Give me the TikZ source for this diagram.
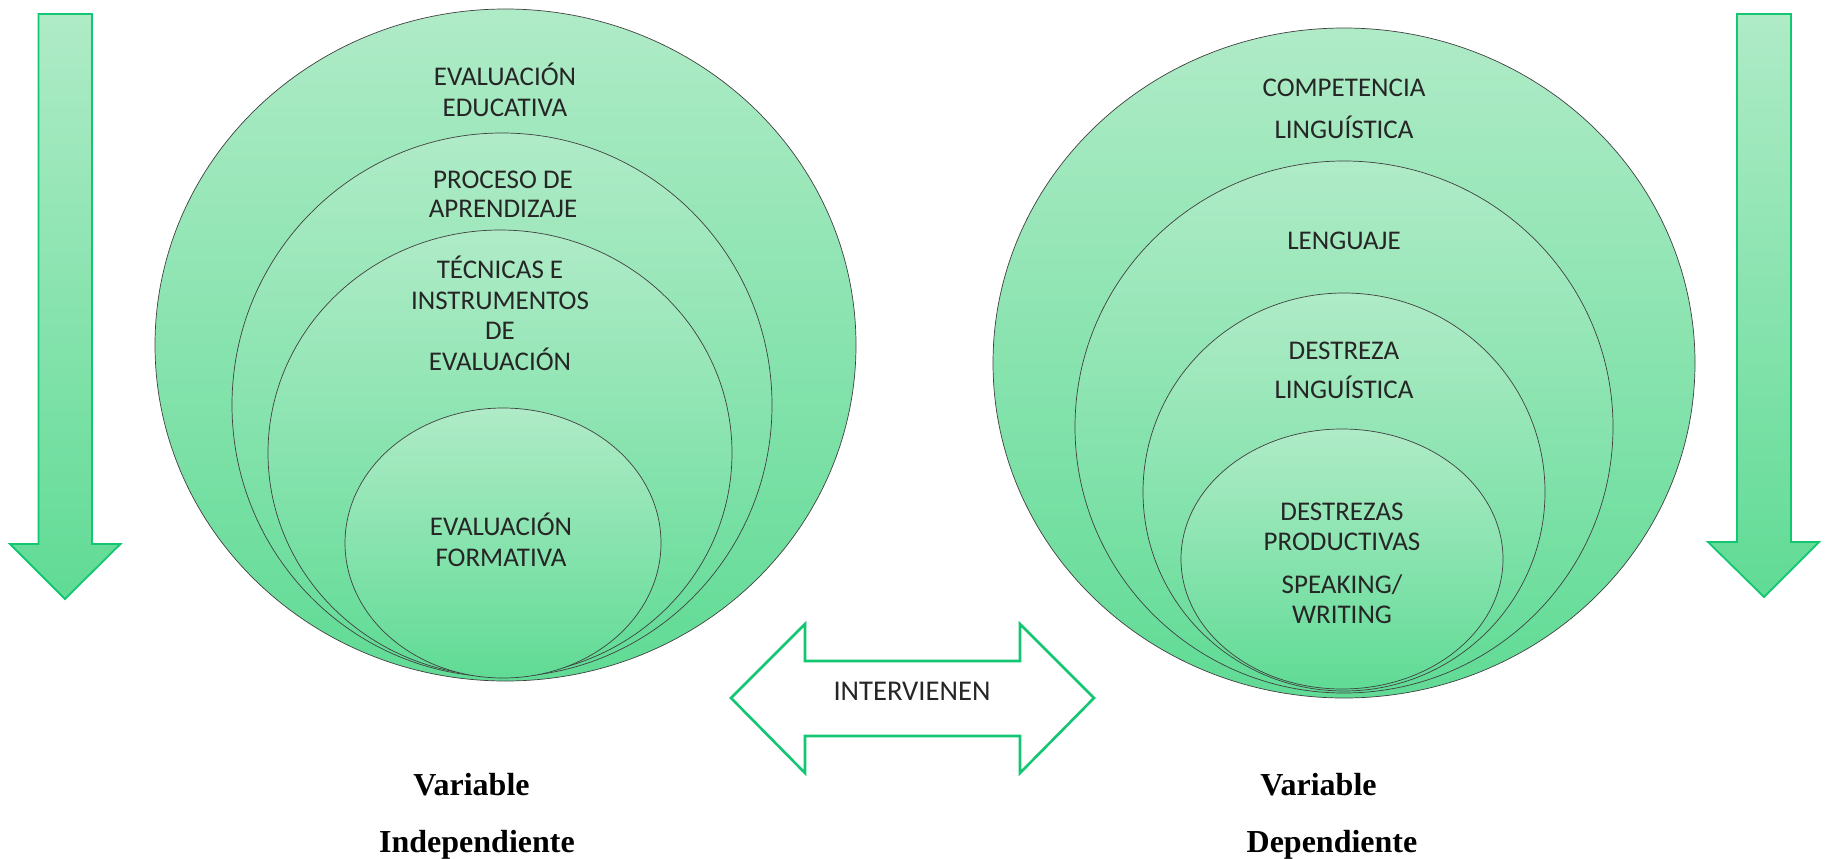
\documentclass[tikz,border=0pt]{standalone}
\usepackage{fontspec}
\setmainfont{Carlito}
\newfontfamily\serifbold{Liberation Serif}
\definecolor{gtop}{RGB}{175,235,199}
\definecolor{gbot}{RGB}{96,219,149}
\definecolor{gline}{RGB}{18,198,114}
\definecolor{txtc}{RGB}{38,38,38}
\tikzset{
  circ/.style={draw=black!75, line width=0.7pt, top color=gtop, bottom color=gbot},
  varrow/.style={draw=gline, line width=1.8pt, line join=miter, top color=gtop, bottom color=gbot},
  darrow/.style={draw=gline, line width=2.6pt, line join=miter, fill=white},
  ctext/.style={anchor=base, inner sep=0pt, text=txtc, font=\fontsize{27}{31}\selectfont},
  vlabel/.style={anchor=base, inner sep=0pt, text=black, font=\serifbold\bfseries\fontsize{32}{36}\selectfont}
}
\begin{document}
\begin{tikzpicture}[x=1pt,y=-1pt]
\useasboundingbox (0,0) rectangle (1828,859);
% vertical arrows
\draw[varrow] (38.5,14) -- (92,14) -- (92,544) -- (120.5,544) -- (65,599) -- (10,544) -- (38.5,544) -- cycle;
\draw[varrow] (1737,14) -- (1791,14) -- (1791,542) -- (1819,542) -- (1764,597) -- (1708,542) -- (1737,542) -- cycle;
% left circles
\draw[circ] (505.5,345) ellipse [x radius=350.5, y radius=336];
\draw[circ] (502,405) ellipse [x radius=270, y radius=272];
\draw[circ] (500,453) ellipse [x radius=232, y radius=223];
\draw[circ] (503,543) ellipse [x radius=158, y radius=135];
% right circles
\draw[circ] (1344,363) ellipse [x radius=351, y radius=335];
\draw[circ] (1344,427) ellipse [x radius=269, y radius=266];
\draw[circ] (1344,492) ellipse [x radius=201, y radius=199];
\draw[circ] (1342,559) ellipse [x radius=161, y radius=130];
% left texts
\node[ctext] (a1) at (505,85) {EVALUACIÓN};
\node[ctext] (a2) at (505,116) {EDUCATIVA};
\node[ctext] (b1) at (503,188) {PROCESO DE};
\node[ctext] (b2) at (503,217) {APRENDIZAJE};
\node[ctext] (c1) at (500,278) {TÉCNICAS E};
\node[ctext] (c2) at (500,309) {INSTRUMENTOS};
\node[ctext] (c3) at (500,339) {DE};
\node[ctext] (c4) at (500,370) {EVALUACIÓN};
\node[ctext] (d1) at (501,535) {EVALUACIÓN};
\node[ctext] (d2) at (501,566) {FORMATIVA};
% right texts
\node[ctext] (e1) at (1344,96) {COMPETENCIA};
\node[ctext] (e2) at (1344,138) {LINGUÍSTICA};
\node[ctext] (f1) at (1344,249) {LENGUAJE};
\node[ctext] (g1) at (1344,359) {DESTREZA};
\node[ctext] (g2) at (1344,398) {LINGUÍSTICA};
\node[ctext] (h1) at (1342,520) {DESTREZAS};
\node[ctext] (h2) at (1342,550) {PRODUCTIVAS};
\node[ctext] (h3) at (1342,593) {SPEAKING/};
\node[ctext] (h4) at (1342,623) {WRITING};
% double arrow
\draw[darrow] (731,698) -- (805,624) -- (805,661) -- (1020,661) -- (1020,624) -- (1094,698) -- (1020,773) -- (1020,736) -- (805,736) -- (805,773) -- cycle;
\node[ctext, font=\fontsize{28.6}{32}\selectfont] (iv) at (912,700) {INTERVIENEN};
% labels
\node[vlabel] (v1) at (471.5,795) {Variable};
\node[vlabel] (v2) at (477,852) {Independiente};
\node[vlabel] (v3) at (1318.5,795) {Variable};
\node[vlabel] (v4) at (1332,852) {Dependiente};
\end{tikzpicture}
\end{document}
